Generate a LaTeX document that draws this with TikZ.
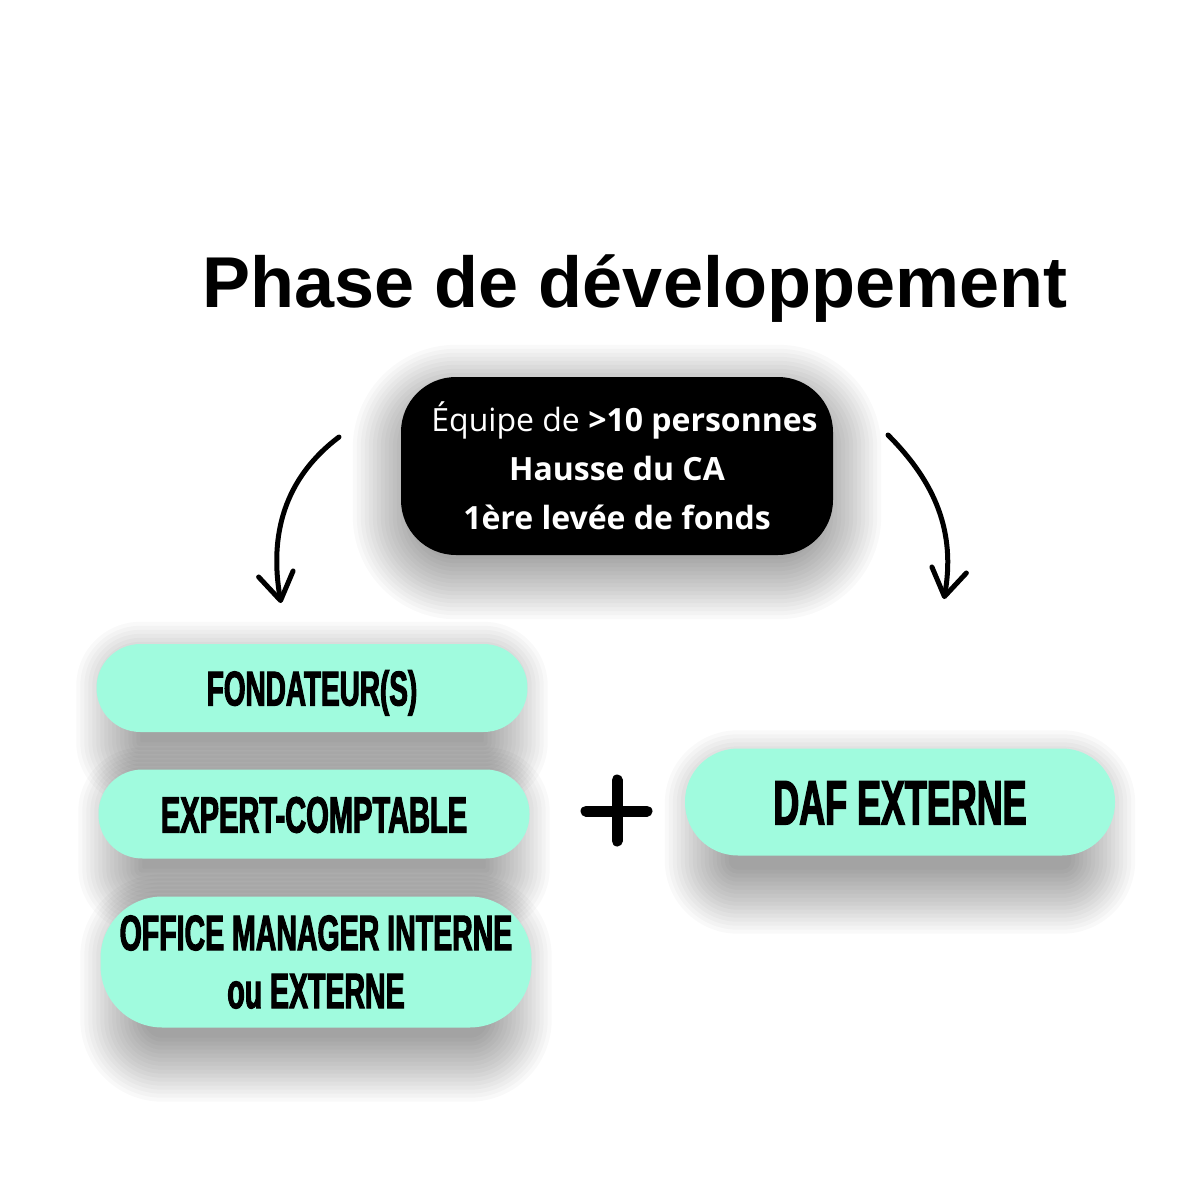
\documentclass[tikz,border=0pt]{standalone}
\usepackage{fontspec}
\setmainfont{Liberation Sans}
\newfontfamily\infofont{Open Sans}
\newfontfamily\pillfont{Liberation Sans}[FakeStretch=0.57,BoldFeatures={FakeBold=2}]
\usetikzlibrary{arrows.meta, calc, backgrounds}
\definecolor{mint}{RGB}{160,251,222}
% ombre douce : noeud, rayon des coins, decalage vertical, retrait lateral
\newcommand{\softshadow}[4]{%
  \foreach \e in {48,44,...,-16}{
    \pgfmathsetmacro\rr{max(#2+\e-#4,1)}
    \fill[black, opacity=0.024, rounded corners=\rr pt]
      ($(#1.north west)+(-\e+#4,-\e+#3)$) rectangle ($(#1.south east)+(\e-#4,\e+#3)$);
  }}

\begin{document}
\begin{tikzpicture}[x=1pt, y=-1pt,
    pill/.style={fill=mint, minimum width=431pt, inner sep=0pt, align=center},
    curvearrow/.style={line width=5pt, line cap=round, -{Straight Barb[length=27pt,width=35pt,round]}}]
\useasboundingbox(0,0)rectangle(1200,1200);

\node[anchor=base, font=\bfseries\fontsize{72}{80}\selectfont] (title) at (635,307) {Phase de d\'eveloppement};

\node[fill=black, text=white, minimum width=432pt, minimum height=178pt, rounded corners=55pt, align=center,
    font=\infofont\fontsize{32}{49}\selectfont]
    (ca) at (617,466) {\hspace*{15pt}\'Equipe de \textbf{>10 personnes}\\ \textbf{Hausse du CA}\\ \textbf{1\`ere lev\'ee de fonds}};

% colonne de gauche
\node[pill, minimum height=88pt, rounded corners=44pt, text height=35pt, text depth=0pt,
    font=\pillfont\bfseries\fontsize{49}{49}\selectfont] (fond) at (312,688) {FONDATEUR(S)};
\node[pill, minimum height=89pt, rounded corners=44pt, text height=37pt, text depth=0pt,
    font=\pillfont\bfseries\fontsize{51}{51}\selectfont] (expert) at (314,814) {EXPERT-COMPTABLE};
\node[pill, minimum height=131pt, rounded corners=62pt,
    font=\pillfont\bfseries\fontsize{50}{58}\selectfont] (office) at (316,962) {OFFICE MANAGER INTERNE\\ou EXTERNE};

% colonne de droite
\node[pill, minimum width=430pt, minimum height=107pt, rounded corners=53pt, text height=45pt, text depth=0pt,
    font=\pillfont\bfseries\fontsize{63}{63}\selectfont] (daf) at (900,802) {DAF EXTERNE};

\begin{scope}[on background layer]
\fill[white](0,0)rectangle(1200,1200);
\softshadow{ca}{55}{16}{0}
\softshadow{fond}{44}{26}{28}
\softshadow{expert}{44}{26}{28}
\softshadow{office}{62}{26}{28}
\softshadow{daf}{53}{30}{28}
\end{scope}

\draw[line width=11pt, line cap=round](586,811)--(647,811)(617,780)--(617,841);

\coordinate (lstart) at (339,437);
\coordinate (lend) at (281,603);
\coordinate (rstart) at (888,435);
\coordinate (rend) at (944,599);
\draw[curvearrow](lstart) to[out=217, in=100] (lend);
\draw[curvearrow](rstart) to[out=-45, in=80] (rend);

\end{tikzpicture}
\end{document}
